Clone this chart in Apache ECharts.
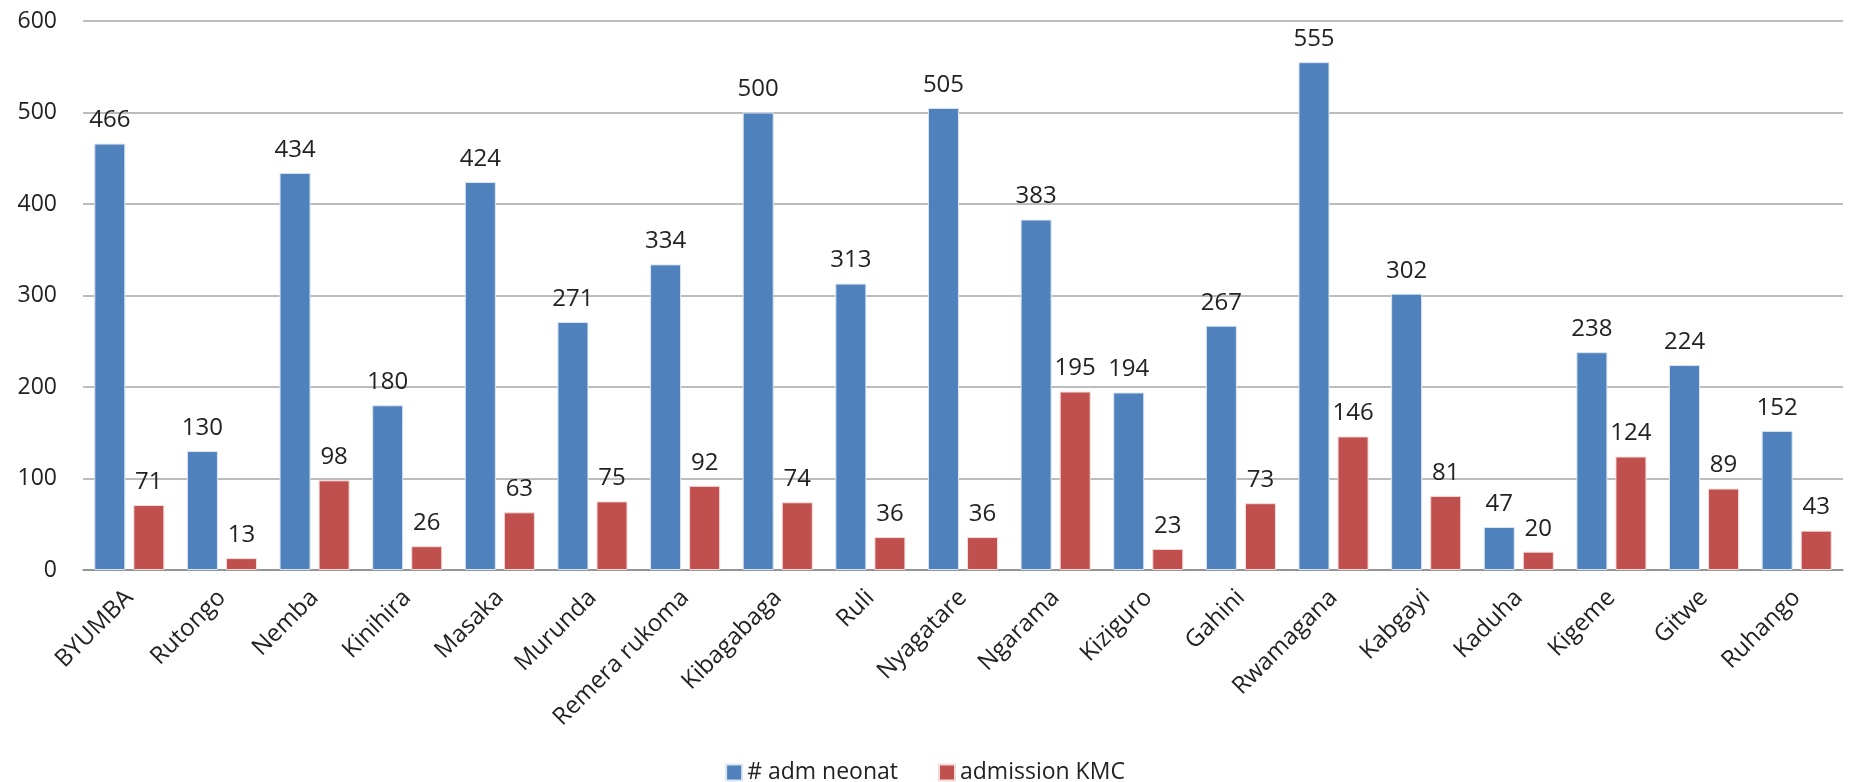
<!DOCTYPE html>
<html>
<head>
<meta charset="utf-8">
<script src="https://cdn.jsdelivr.net/npm/echarts@6/dist/echarts.min.js"></script>
<style>
  html, body { margin: 0; padding: 0; background: #fff; }
  #chart { width: 1850px; height: 782px; }
</style>
</head>
<body>
<div id="chart"></div>
<script>
var hospitals = ['BYUMBA', 'Rutongo', 'Nemba', 'Kinihira', 'Masaka', 'Murunda', 'Remera rukoma',
    'Kibagabaga', 'Ruli', 'Nyagatare', 'Ngarama', 'Kiziguro', 'Gahini', 'Rwamagana',
    'Kabgayi', 'Kaduha', 'Kigeme', 'Gitwe', 'Ruhango'];
var admNeonat = [466, 130, 434, 180, 424, 271, 334, 500, 313, 505, 383, 194, 267, 555, 302, 47, 238, 224, 152];
var admKMC = [71, 13, 98, 26, 63, 75, 92, 74, 36, 36, 195, 23, 73, 146, 81, 20, 124, 89, 43];
var yTicks = [0, 100, 200, 300, 400, 500, 600];

var font = '"Open Sans", "Noto Sans", sans-serif';
var myChart = echarts.init(document.getElementById('chart'));

function barLabel() {
    return {
        show: true,
        position: 'top',
        distance: 11,
        color: '#222',
        fontSize: 24,
        fontFamily: font
    };
}

var option = {
    animation: false,
    grid: {
        left: 83,
        right: 7,
        top: 21,
        bottom: 212
    },
    legend: {
        top: 756,
        left: 'center',
        itemWidth: 16,
        itemHeight: 16,
        itemGap: 40,
        icon: 'rect',
        textStyle: { fontSize: 23, fontFamily: font, color: '#222' },
        data: ['# adm neonat', 'admission KMC']
    },
    xAxis: {
        type: 'category',
        data: hospitals,
        axisLine: { lineStyle: { color: '#888', width: 1.5 } },
        axisTick: { show: false },
        axisLabel: {
            rotate: 45,
            margin: 24,
            interval: 0,
            color: '#222',
            fontSize: 24,
            fontFamily: font
        }
    },
    yAxis: {
        type: 'value',
        min: yTicks[0],
        max: yTicks[yTicks.length - 1],
        interval: 100,
        axisLine: { show: false },
        axisTick: { show: false },
        splitLine: { lineStyle: { color: '#a6a6a6', width: 1.5 } },
        axisLabel: {
            margin: 26,
            color: '#222',
            fontSize: 23,
            fontFamily: font
        }
    },
    series: [
        {
            name: '# adm neonat',
            type: 'bar',
            data: admNeonat,
            barWidth: 31,
            barGap: '26%',
            itemStyle: { color: '#4F81BD', borderColor: '#dbe5f1', borderWidth: 1 },
            label: barLabel()
        },
        {
            name: 'admission KMC',
            type: 'bar',
            data: admKMC,
            barWidth: 31,
            barGap: '26%',
            itemStyle: { color: '#C0504D', borderColor: '#f2dcdb', borderWidth: 1 },
            label: barLabel()
        }
    ]
};
myChart.setOption(option);
</script>
</body>
</html>
